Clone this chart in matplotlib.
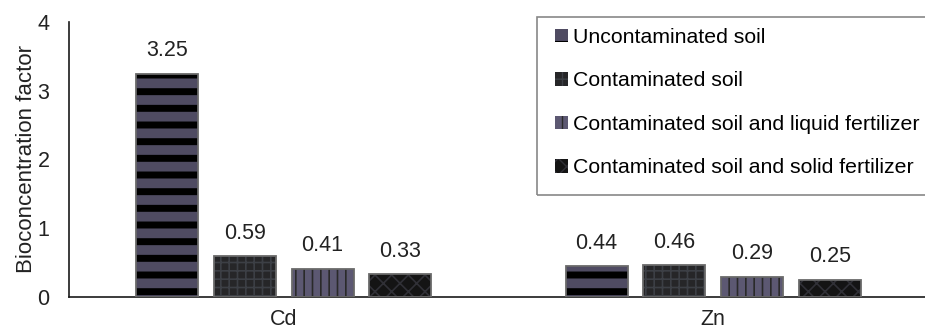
import numpy as np
import matplotlib
matplotlib.use("Agg")
import matplotlib.pyplot as plt

plt.rcParams['font.family'] = ['Liberation Sans', 'DejaVu Sans']

metals = ['Cd', 'Zn']
treatments = ['Uncontaminated soil', 'Contaminated soil',
              'Contaminated soil and liquid fertilizer',
              'Contaminated soil and solid fertilizer']
uncontaminated = [3.25, 0.44]
contaminated = [0.59, 0.46]
liquid_fert = [0.41, 0.29]
solid_fert = [0.33, 0.25]

series = [uncontaminated, contaminated, liquid_fert, solid_fert]
# face colour, hatch, hatch colour
styles = [
    ('#4f4b62', '-', '#000000'),
    ('#262628', '++', '#3c3f45'),
    ('#5c5872', '||', '#2a2a2a'),
    ('#141414', 'xx', '#303036'),
]

fig = plt.figure(figsize=(9.25, 3.32), dpi=100)
ax = fig.add_axes([69 / 925, 35.3 / 332, 856 / 925, 274.7 / 332])

x = np.arange(len(metals))
step = 0.181
width = 0.144
handles = []
for i, (vals, (fc, hatch, hc)) in enumerate(zip(series, styles)):
    pos = x + (i - 1.5) * step
    bars = ax.bar(pos, vals, width, color=fc, hatch=hatch, edgecolor=hc,
                  linewidth=0, label=treatments[i], zorder=2)
    for b in bars:
        if hasattr(b, 'set_hatch_linewidth'):
            b.set_hatch_linewidth(5 if i == 0 else 1.2)
    ax.bar(pos, vals, width, fill=False, edgecolor='#6a6a6a', linewidth=1.3, zorder=3)
    for p, v in zip(pos, vals):
        ax.annotate(f'{v:.2f}', (p, v), xytext=(0, 9), textcoords='offset points',
                    ha='center', va='bottom', fontsize=15.5, color='#222222')
    handles.append(bars)

ax.set_xlim(-0.5, 1.493)
ax.set_ylim(0, 4)
ax.set_yticks([0, 1, 2, 3, 4])
ax.set_xticks(x)
ax.set_xticklabels(metals)
ax.tick_params(axis='both', length=0, labelsize=15.5, colors='#222222')
ax.tick_params(axis='y', pad=14)
ax.tick_params(axis='x', pad=9)
ax.set_ylabel('Bioconcentration factor', fontsize=16, color='#222222', labelpad=0)
for s in ['top', 'right']:
    ax.spines[s].set_visible(False)
for s in ['left', 'bottom']:
    ax.spines[s].set_linewidth(1.2)
    ax.spines[s].set_color('#1a1a1a')

# legend without frame, box drawn separately (it runs off the right edge)
leg = ax.legend(handles=handles, labels=treatments, loc='upper left',
                bbox_to_anchor=(555 / 925, 1 - 28 / 332),
                bbox_transform=fig.transFigure, borderaxespad=0, borderpad=0,
                fontsize=15.3, handlelength=0.6, handleheight=0.6,
                handletextpad=0.25, labelspacing=1.15, frameon=False)
fig.add_artist(plt.Rectangle((537 / 925, 1 - 195 / 332), (935 - 537) / 925,
                             (195 - 16.7) / 332, transform=fig.transFigure,
                             fill=False, edgecolor='#888888', linewidth=1.2))

fig.savefig('out.png', dpi=100)
